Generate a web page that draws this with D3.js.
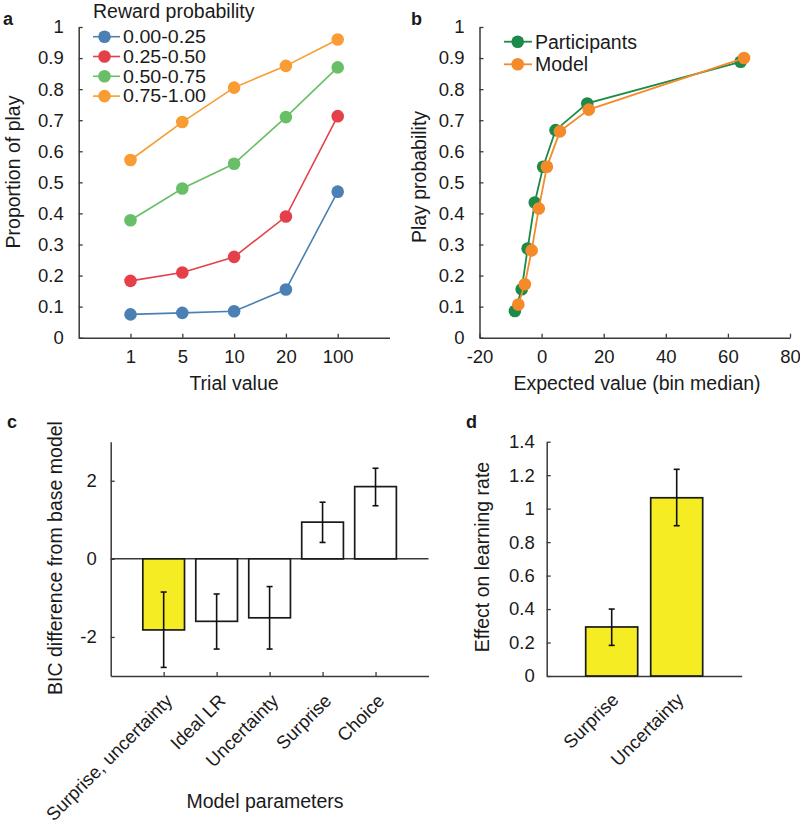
<!DOCTYPE html>
<html>
<head>
<meta charset="utf-8">
<script src="https://cdn.jsdelivr.net/npm/d3@7"></script>
<style>
  html, body { margin: 0; padding: 0; background: #fff; }
  text { font-family: "Liberation Sans", Arial, Helvetica, sans-serif; fill: #1a1a1a; }
  .domain { stroke: #3a3a3a; stroke-width: 1.5; }
  .tick line { stroke: #3a3a3a; stroke-width: 1.3; }
</style>
</head>
<body>
<svg id="chart" width="800" height="829"></svg>
<script>
// ---------- Panel a data ----------
const trialValues = ["1", "5", "10", "20", "100"];
const rewardBins = ["0.00-0.25", "0.25-0.50", "0.50-0.75", "0.75-1.00"];
const play000_025 = [0.075, 0.080, 0.085, 0.155, 0.470];
const play025_050 = [0.183, 0.210, 0.260, 0.390, 0.713];
const play050_075 = [0.378, 0.480, 0.560, 0.710, 0.870];
const play075_100 = [0.572, 0.694, 0.805, 0.875, 0.960];
const rewardColors = ["#4a80b3", "#e5404a", "#69bf67", "#f89c33"];
const proportionTicks = [0, 0.1, 0.2, 0.3, 0.4, 0.5, 0.6, 0.7, 0.8, 0.9, 1];

// ---------- Panel b data ----------
const evParticipants = [-8.6, -6.4, -4.5, -2.2, 0.5, 4.5, 14.7, 64.1];
const playParticipants = [0.086, 0.156, 0.287, 0.435, 0.550, 0.668, 0.754, 0.888];
const evModel = [-7.5, -5.4, -3.2, -0.9, 1.7, 5.9, 15.2, 65.2];
const playModel = [0.107, 0.172, 0.281, 0.416, 0.550, 0.664, 0.734, 0.900];
const bSeries = ["Participants", "Model"];
const bColors = ["#1c8a48", "#f58a2a"];
const evTicks = [-20, 0, 20, 40, 60, 80];

// ---------- Panel c data ----------
const modelParams = ["Surprise, uncertainty", "Ideal LR", "Uncertainty", "Surprise", "Choice"];
const bicDiff = [-1.82, -1.60, -1.51, 0.94, 1.85];
const bicErrLow = [-2.78, -2.31, -2.31, 0.42, 1.36];
const bicErrHigh = [-0.85, -0.90, -0.71, 1.45, 2.32];
const bicHighlight = [true, false, false, false, false];
const bicTicks = [-2, 0, 2];

// ---------- Panel d data ----------
const lrParams = ["Surprise", "Uncertainty"];
const lrEffect = [0.293, 1.065];
const lrErrLow = [0.183, 0.898];
const lrErrHigh = [0.400, 1.235];
const lrTicks = [0, 0.2, 0.4, 0.6, 0.8, 1, 1.2, 1.4];

const yellow = "#f6ec24";
const svg = d3.select("#chart");
const fmt = d => String(+(+d).toFixed(1));
const tickFont = "18.5px";
const labelFont = "19.5px";
const legendFont = "18px";

function styleAxis(g) {
  g.selectAll(".tick text").style("font-size", tickFont).attr("fill", "#1a1a1a");
}

// ================= Panel a =================
{
  const x = d3.scaleLinear().domain([0, 6]).range([78.7, 389.5]);
  const y = d3.scaleLinear().domain([0, 1]).range([337.7, 27]);
  const gx = svg.append("g").attr("transform", `translate(0,${y(0)})`)
    .call(d3.axisBottom(x).tickValues([1, 2, 3, 4, 5]).tickFormat((d, i) => trialValues[i])
      .tickSizeInner(-4).tickSizeOuter(0).tickPadding(12));
  styleAxis(gx);
  const gy = svg.append("g").attr("transform", `translate(${x(0)},0)`)
    .call(d3.axisLeft(y).tickValues(proportionTicks).tickFormat(fmt)
      .tickSizeInner(-4).tickSizeOuter(0).tickPadding(15));
  styleAxis(gy);

  const series = [play000_025, play025_050, play050_075, play075_100];
  const line = d3.line().x((d, i) => x(i + 1)).y(d => y(d));
  series.forEach((vals, s) => {
    svg.append("path").datum(vals).attr("d", line)
      .attr("fill", "none").attr("stroke", rewardColors[s]).attr("stroke-width", 1.6);
    svg.append("g").selectAll("circle").data(vals).join("circle")
      .attr("cx", (d, i) => x(i + 1)).attr("cy", d => y(d)).attr("r", 6.3)
      .attr("fill", rewardColors[s]);
  });

  // legend
  svg.append("text").attr("x", 93).attr("y", 18).style("font-size", labelFont).text("Reward probability");
  rewardBins.forEach((lab, i) => {
    const cy = 36.7 + i * 19.8;
    svg.append("line").attr("x1", 93).attr("x2", 120).attr("y1", cy).attr("y2", cy)
      .attr("stroke", rewardColors[i]).attr("stroke-width", 1.6);
    svg.append("circle").attr("cx", 104.5).attr("cy", cy).attr("r", 6.3).attr("fill", rewardColors[i]);
    svg.append("text").attr("x", 123).attr("y", cy).attr("dy", "0.35em")
      .style("font-size", legendFont).attr("textLength", 83).attr("lengthAdjust", "spacingAndGlyphs").text(lab);
  });

  svg.append("text").attr("x", 234).attr("y", 390).attr("text-anchor", "middle")
    .style("font-size", labelFont).text("Trial value");
  svg.append("text").attr("transform", `translate(19.5,172) rotate(-90)`).attr("text-anchor", "middle")
    .style("font-size", labelFont).text("Proportion of play");
  svg.append("text").attr("x", 3).attr("y", 25).style("font-size", "18px").style("font-weight", "bold").text("a");
}

// ================= Panel b =================
{
  const x = d3.scaleLinear().domain([-20, 80]).range([479.5, 790]);
  const y = d3.scaleLinear().domain([0, 1]).range([337.7, 27]);
  const gx = svg.append("g").attr("transform", `translate(0,${y(0)})`)
    .call(d3.axisBottom(x).tickValues(evTicks).tickFormat(d => String(d))
      .tickSizeInner(-4).tickSizeOuter(0).tickPadding(12));
  styleAxis(gx);
  const gy = svg.append("g").attr("transform", `translate(${x(-20)},0)`)
    .call(d3.axisLeft(y).tickValues(proportionTicks).tickFormat(fmt)
      .tickSizeInner(-4).tickSizeOuter(0).tickPadding(15));
  styleAxis(gy);

  const sets = [
    evParticipants.map((e, i) => [e, playParticipants[i]]),
    evModel.map((e, i) => [e, playModel[i]])
  ];
  const line = d3.line().x(d => x(d[0])).y(d => y(d[1]));
  sets.forEach((pts, s) => {
    svg.append("path").datum(pts).attr("d", line)
      .attr("fill", "none").attr("stroke", bColors[s]).attr("stroke-width", 1.8);
    svg.append("g").selectAll("circle").data(pts).join("circle")
      .attr("cx", d => x(d[0])).attr("cy", d => y(d[1])).attr("r", 6.3).attr("fill", bColors[s]);
  });

  bSeries.forEach((lab, i) => {
    const cy = 41.7 + i * 22.6;
    svg.append("line").attr("x1", 504).attr("x2", 532).attr("y1", cy).attr("y2", cy)
      .attr("stroke", bColors[i]).attr("stroke-width", 1.8);
    svg.append("circle").attr("cx", 517.7).attr("cy", cy).attr("r", 6.3).attr("fill", bColors[i]);
    svg.append("text").attr("x", 535).attr("y", cy).attr("dy", "0.35em").style("font-size", labelFont).text(lab);
  });

  svg.append("text").attr("x", 637).attr("y", 390).attr("text-anchor", "middle")
    .style("font-size", labelFont).text("Expected value (bin median)");
  svg.append("text").attr("transform", `translate(425.5,177) rotate(-90)`).attr("text-anchor", "middle")
    .style("font-size", labelFont).text("Play probability");
  svg.append("text").attr("x", 411).attr("y", 25).style("font-size", "18px").style("font-weight", "bold").text("b");
}

// ================= Panel c =================
{
  const x = d3.scaleLinear().domain([0, 6]).range([110.7, 428.5]);
  const y = d3.scaleLinear().domain([-3, 3]).range([676, 441.7]);
  const bw = 41.7;
  // zero line
  svg.append("line").attr("x1", x(0)).attr("x2", x(6)).attr("y1", y(0)).attr("y2", y(0))
    .attr("stroke", "#3a3a3a").attr("stroke-width", 1.5);

  const gx = svg.append("g").attr("transform", `translate(0,${y(-3)})`)
    .call(d3.axisBottom(x).tickValues([1, 2, 3, 4, 5]).tickFormat("")
      .tickSizeInner(-4).tickSizeOuter(0));
  const gy = svg.append("g").attr("transform", `translate(${x(0)},0)`)
    .call(d3.axisLeft(y).tickValues(bicTicks).tickFormat(d => String(d))
      .tickSizeInner(-4).tickSizeOuter(0).tickPadding(14));
  styleAxis(gy);

  svg.append("g").selectAll("rect").data(bicDiff).join("rect")
    .attr("x", (d, i) => x(i + 1) - bw / 2).attr("width", bw)
    .attr("y", d => y(Math.max(0, d))).attr("height", d => Math.abs(y(d) - y(0)))
    .attr("fill", (d, i) => bicHighlight[i] ? yellow : "#fff")
    .attr("stroke", "#1a1a1a").attr("stroke-width", 1.7);

  const eb = svg.append("g").attr("stroke", "#111").attr("stroke-width", 1.6);
  bicDiff.forEach((d, i) => {
    const cx = x(i + 1);
    eb.append("line").attr("x1", cx).attr("x2", cx).attr("y1", y(bicErrLow[i])).attr("y2", y(bicErrHigh[i]));
    eb.append("line").attr("x1", cx - 3).attr("x2", cx + 3).attr("y1", y(bicErrLow[i])).attr("y2", y(bicErrLow[i]));
    eb.append("line").attr("x1", cx - 3).attr("x2", cx + 3).attr("y1", y(bicErrHigh[i])).attr("y2", y(bicErrHigh[i]));
  });

  modelParams.forEach((lab, i) => {
    svg.append("text").attr("transform", `translate(${x(i + 1) + 10},${y(-3) + 26}) rotate(-45)`)
      .attr("text-anchor", "end").style("font-size", tickFont).text(lab);
  });

  svg.append("text").attr("x", 265).attr("y", 808).attr("text-anchor", "middle")
    .style("font-size", labelFont).text("Model parameters");
  svg.append("text").attr("transform", `translate(62,558) rotate(-90)`).attr("text-anchor", "middle")
    .style("font-size", labelFont).text("BIC difference from base model");
  svg.append("text").attr("x", 7).attr("y", 428).style("font-size", "18px").style("font-weight", "bold").text("c");
}

// ================= Panel d =================
{
  const x = d3.scaleLinear().domain([0, 3]).range([546.7, 741.7]);
  const y = d3.scaleLinear().domain([0, 1.4]).range([676, 441.7]);
  const bw = 52;
  const gx = svg.append("g").attr("transform", `translate(0,${y(0)})`)
    .call(d3.axisBottom(x).tickValues([]).tickSizeOuter(0));
  const gy = svg.append("g").attr("transform", `translate(${x(0)},0)`)
    .call(d3.axisLeft(y).tickValues(lrTicks).tickFormat(fmt)
      .tickSizeInner(-4).tickSizeOuter(0).tickPadding(12));
  styleAxis(gy);

  svg.append("g").selectAll("rect").data(lrEffect).join("rect")
    .attr("x", (d, i) => x(i + 1) - bw / 2).attr("width", bw)
    .attr("y", d => y(d)).attr("height", d => y(0) - y(d))
    .attr("fill", yellow).attr("stroke", "#1a1a1a").attr("stroke-width", 1.7);

  const eb = svg.append("g").attr("stroke", "#111").attr("stroke-width", 1.6);
  lrEffect.forEach((d, i) => {
    const cx = x(i + 1);
    eb.append("line").attr("x1", cx).attr("x2", cx).attr("y1", y(lrErrLow[i])).attr("y2", y(lrErrHigh[i]));
    eb.append("line").attr("x1", cx - 3).attr("x2", cx + 3).attr("y1", y(lrErrLow[i])).attr("y2", y(lrErrLow[i]));
    eb.append("line").attr("x1", cx - 3).attr("x2", cx + 3).attr("y1", y(lrErrHigh[i])).attr("y2", y(lrErrHigh[i]));
  });

  lrParams.forEach((lab, i) => {
    svg.append("text").attr("transform", `translate(${x(i + 1) + 8},${y(0) + 25}) rotate(-45)`)
      .attr("text-anchor", "end").style("font-size", tickFont).text(lab);
  });

  svg.append("text").attr("transform", `translate(489,557) rotate(-90)`).attr("text-anchor", "middle")
    .style("font-size", labelFont).text("Effect on learning rate");
  svg.append("text").attr("x", 466).attr("y", 428).style("font-size", "18px").style("font-weight", "bold").text("d");
}
</script>
</body>
</html>
